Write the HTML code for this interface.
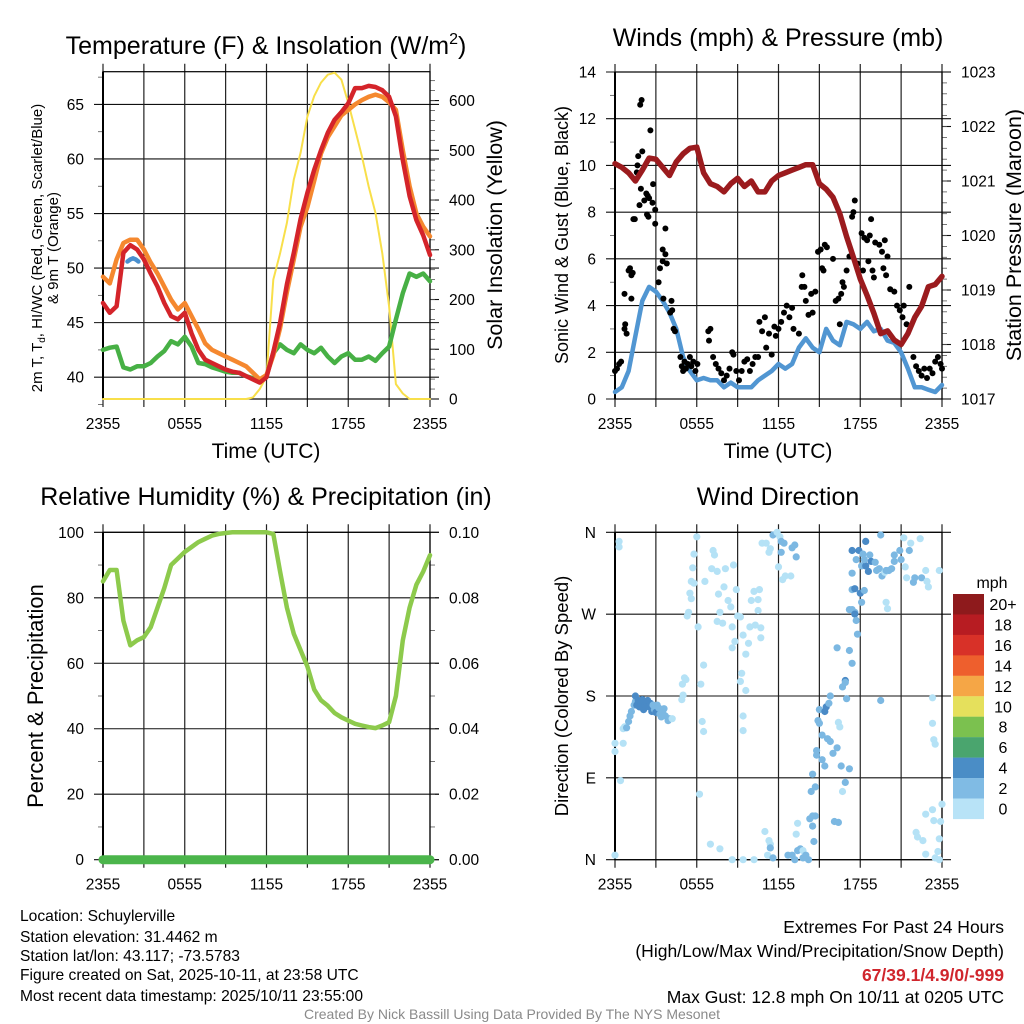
<!DOCTYPE html>
<html><head><meta charset="utf-8">
<style>
html,body{margin:0;padding:0;background:#fff;}
svg{display:block;font-family:"Liberation Sans",Arial,sans-serif;}
</style></head>
<body>
<svg id="fig" width="1024" height="1024" viewBox="0 0 1024 1024" xmlns="http://www.w3.org/2000/svg">
<rect x="0" y="0" width="1024" height="1024" fill="#fff"/>
<g id="layer"></g>
<text x="266" y="54" font-size="25" text-anchor="middle">Temperature (F) &amp; Insolation (W/m<tspan dy="-10" font-size="16">2</tspan><tspan dy="10">)</tspan></text>
<text x="778" y="46" font-size="25" text-anchor="middle">Winds (mph) &amp; Pressure (mb)</text>
<text x="266" y="505" font-size="25" text-anchor="middle">Relative Humidity (%) &amp; Precipitation (in)</text>
<text x="778" y="505" font-size="25" text-anchor="middle">Wind Direction</text>

<text transform="translate(42,248) rotate(-90)" font-size="15" text-anchor="middle">2m T, T<tspan dy="3" font-size="10">d</tspan><tspan dy="-3">, HI/WC (Red, Green, Scarlet/Blue)</tspan></text>
<text transform="translate(58,248) rotate(-90)" font-size="15" text-anchor="middle">&amp; 9m T (Orange)</text>
<text transform="translate(502,235) rotate(-90)" font-size="21.5" text-anchor="middle">Solar Insolation (Yellow)</text>
<text transform="translate(568,235) rotate(-90)" font-size="18" text-anchor="middle">Sonic Wind &amp; Gust (Blue, Black)</text>
<text transform="translate(1021,235) rotate(-90)" font-size="21.5" text-anchor="middle">Station Pressure (Maroon)</text>
<text transform="translate(43,696) rotate(-90)" font-size="22" text-anchor="middle">Percent &amp; Precipitation</text>
<text transform="translate(568,696) rotate(-90)" font-size="18.5" text-anchor="middle">Direction (Colored By Speed)</text>
<text x="266" y="458" font-size="21" text-anchor="middle">Time (UTC)</text>
<text x="778" y="458" font-size="21" text-anchor="middle">Time (UTC)</text>

<g font-size="15.6">
<text x="20" y="921">Location: Schuylerville</text>
<text x="20" y="942">Station elevation: 31.4462 m</text>
<text x="20" y="961">Station lat/lon: 43.117; -73.5783</text>
<text x="20" y="980">Figure created on Sat, 2025-10-11, at 23:58 UTC</text>
<text x="20" y="1001">Most recent data timestamp: 2025/10/11 23:55:00</text>
</g>
<g font-size="17.5" text-anchor="end">
<text x="1004" y="933">Extremes For Past 24 Hours</text>
<text x="1004" y="957">(High/Low/Max Wind/Precipitation/Snow Depth)</text>
<text x="1004" y="981" fill="#d0262d" font-weight="bold">67/39.1/4.9/0/-999</text>
<text x="1004" y="1003">Max Gust: 12.8 mph On 10/11 at 0205 UTC</text>
</g>
<text x="512" y="1019" font-size="14" fill="#8a8a8a" text-anchor="middle">Created By Nick Bassill Using Data Provided By The NYS Mesonet</text>
</svg>
<script>
const times=[0,0.5,1,1.5,2,2.5,3,3.5,4,4.5,5,5.5,6,6.5,7,7.5,8,8.5,9,9.5,10,10.5,11,11.5,12,12.5,13,13.5,14,14.5,15,15.5,16,16.5,17,17.5,18,18.5,19,19.5,20,20.5,21,21.5,22,22.5,23,23.5,24];
const xTickHours=[0,6,12,18,24];
const xTickLabels=["2355","0555","1155","1755","2355"];
const tempRed=[46.8,45.9,46.5,51.4,52.1,51.7,50.8,49.5,48.3,46.8,45.6,45.3,45.9,44,42.5,41.6,41.3,41,40.7,40.5,40.4,40.1,39.8,39.5,40,42.3,45,48.5,51.4,54.5,56.9,59,60.8,62.4,63.6,64.3,65.1,66.5,66.5,66.7,66.6,66.3,65.7,63.9,59.9,56.6,54.4,53,51.2];
const temp9m=[49.2,48.6,50.8,52.3,52.6,52.6,51.7,50.5,49.5,48.3,47.1,46.2,46.8,45.6,44.4,43.1,42.5,42.2,41.9,41.6,41.3,41,40.4,39.8,40.2,42,44.5,47.8,50.8,53.8,55.6,58,60.5,62,63,64,64.5,65,65.4,65.7,65.9,65.7,65.2,64.5,60.8,57.5,55,53.8,52.9];
const dewpoint=[42.5,42.7,42.8,40.9,40.7,41,41,41.3,41.9,42.4,43.3,43,43.7,42.8,41.3,41.2,40.9,40.7,40.5,40.4,40.4,40.1,39.9,39.8,40.1,42.2,43,42.5,42.2,43,42.5,42.2,42.7,41.9,41.3,41.9,42.2,41.6,41.6,41.9,41.5,42.2,42.8,45.3,47.7,49.5,49.2,49.5,48.8];
const hiwcTimes=[1.8,2.0,2.2,2.4,2.6];
const hiwcVals=[50.6,50.8,50.9,50.8,50.6];
const insolation=[0,0,0,0,0,0,0,0,0,0,0,0,0,0,0,0,0,0,0,0,0,0,3,20,45,240,293,354,441,495,568,609,636,652,656,642,595,542,488,427,374,293,186,30,11,0,0,0,0];
const tempTicks=[40,45,50,55,60,65];
const insolTicks=[0,100,200,300,400,500,600];
const wind=[0.3,0.5,1.2,2.7,4.2,4.8,4.6,4.2,3.7,3.0,1.8,1.2,0.8,0.9,0.8,0.8,0.5,0.7,0.5,0.5,0.5,0.8,1,1.2,1.5,1.3,1.5,2.2,2.6,2.2,2.0,3,2.5,2.3,3.3,3.2,3.0,3.3,2.9,3,2.5,2.4,2,1.3,0.5,0.5,0.4,0.3,0.6];
const pressure=[1021.32,1021.25,1021.15,1021.0,1021.2,1021.42,1021.4,1021.25,1021.1,1021.35,1021.5,1021.6,1021.62,1021.15,1020.95,1020.9,1020.8,1020.95,1021.05,1020.9,1021.0,1020.8,1020.8,1021.0,1021.1,1021.15,1021.2,1021.25,1021.3,1021.3,1020.95,1020.85,1020.7,1020.4,1019.98,1019.6,1019.2,1018.9,1018.57,1018.2,1018.25,1018.08,1018.0,1018.2,1018.5,1018.7,1019.06,1019.1,1019.25];
const gustTimes=[0,0.15,0.3,0.45,0.7,0.75,0.85,0.7,1.0,1.1,1.2,1.3,1.2,1.35,1.45,1.6,1.65,1.7,1.8,1.85,1.95,1.9,2.0,2.15,2.3,2.4,2.5,2.35,2.45,2.6,2.8,2.75,2.95,2.95,3.2,3.3,3.5,3.5,3.7,3.7,3.8,3.55,4.05,4.15,4.2,4.3,4.4,4.8,4.9,5.0,5.1,5.2,5.35,5.5,5.6,5.75,5.9,6.05,6.85,6.9,7.0,7.2,7.4,7.6,7.8,8.0,8.2,8.4,8.6,8.7,8.9,9.1,9.3,9.5,9.7,9.9,10.1,10.3,10.5,10.6,10.8,11.0,11.1,11.3,11.5,11.7,11.8,12.0,12.2,12.4,12.6,12.8,13.0,13.1,13.5,13.7,13.75,13.9,14.0,14.2,14.4,14.5,14.7,14.9,15.1,15.2,15.3,15.4,15.55,16.0,16.2,16.4,16.6,16.7,16.8,16.5,17.0,17.2,17.4,17.5,17.6,17.8,18.1,18.3,18.5,18.7,18.2,18.6,18.9,19.0,18.8,19.1,19.4,19.6,19.7,19.8,20.0,19.9,20.2,20.5,20.7,20.9,21.1,21.2,21.4,21.6,21.9,22.1,22.3,22.5,22.7,22.9,23.1,23.3,23.5,23.7,23.9,24];
const gustVals=[1.2,1.3,1.5,1.6,3.0,3.2,2.8,4.5,5.5,5.6,5.3,5.4,4.3,7.7,7.7,9.7,10.0,10.4,8.3,12.6,12.8,9.0,10.6,8.5,8.8,8.7,8.6,7.9,7.8,11.5,9.2,8.4,7.5,8.1,5.0,5.6,6.4,5.9,7.3,6.2,5.8,4.3,3.7,4.2,3.8,3.0,2.9,1.8,1.4,1.2,1.6,1.3,1.5,1.8,1.4,1.6,1.2,1.5,2.9,2.5,3.0,1.8,1.5,1.3,1.1,0.8,1.0,1.3,2.0,1.9,1.2,0.8,1.2,1.6,1.7,1.2,1.5,1.8,1.8,3.3,2.9,3.5,2.2,2.8,1.9,3.1,2.7,3.0,3.3,3.7,4.0,3.5,3.9,3.0,2.8,4.8,5.3,4.8,4.2,3.6,4.5,3.7,4.6,6.3,6.4,5.6,5.5,6.6,6.5,6.0,4.2,4.3,4.5,5.0,4.8,3.2,5.5,6.1,7.8,8.0,8.5,5.8,7.1,6.9,6.8,7.0,5.5,5.9,5.5,5.2,7.7,6.7,6.6,6.3,5.6,6.8,6.1,5.3,4.7,4.6,4.0,3.8,3.5,4.0,3.2,4.8,1.8,1.4,1.2,1.0,1.3,0.9,1.3,1.1,1.6,1.8,1.5,1.3];
const windTicks=[0,2,4,6,8,10,12,14];
const pressTicks=[1017,1018,1019,1020,1021,1022,1023];
const rh=[85,88.5,88.5,73,65.5,67,68,71,77,83,90,92,94,95.5,97,98,99,99.5,99.8,100,100,100,100,100,100,99.5,88,77,69,64,59,52,48.7,47,44.8,43.5,42.5,41.5,41,40.5,40.2,41,42,50,67,77,84,88,93];
const precip=[0,0,0,0,0,0,0,0,0,0,0,0,0,0,0,0,0,0,0,0,0,0,0,0,0,0,0,0,0,0,0,0,0,0,0,0,0,0,0,0,0,0,0,0,0,0,0,0,0];
const rhTicks=[0,20,40,60,80,100];
const precipTicks=[0,0.02,0.04,0.06,0.08,0.10];
const dirTimes=[0.3,0.3,0.0,0.0,0.4,0.0,0.6,0.7,0.6,0.85,1.0,1.1,1.2,1.4,1.5,1.5,1.6,1.7,1.8,1.9,2.0,2.1,2.2,2.3,2.4,2.5,2.6,2.7,2.8,2.9,3.0,3.1,3.2,3.3,3.4,3.5,3.6,3.7,3.9,4.0,4.2,4.9,5.0,4.95,5.1,5.2,5.4,5.3,5.5,5.6,5.7,5.8,6.0,5.6,5.8,6.1,6.3,6.5,6.4,6.5,6.2,6.6,7.1,7.2,7.3,7.5,7.6,7.7,7.5,7.9,8.0,8.1,8.3,8.5,8.6,8.8,8.6,8.7,8.9,9.0,9.2,9.2,9.3,9.6,9.4,9.6,9.8,9.9,10.0,10.2,10.5,10.5,10.6,10.3,10.7,10.7,9.4,9.4,7.0,7.7,8.6,9.4,10.2,11.0,11.3,11.4,11.4,11.2,11.6,10.8,11.1,11.3,11.4,11.6,11.9,12.1,12.2,12.4,12.2,12.0,12.5,12.9,12.3,13.0,13.2,13.3,12.7,13.0,13.2,13.4,13.6,13.4,13.3,13.8,14.0,14.2,13.8,14.3,14.5,14.7,14.5,14.6,14.4,14.7,14.5,14.8,15.2,15.4,14.8,14.9,15.0,15.2,15.0,15.4,15.5,15.7,15.8,15.6,15.8,16.0,16.3,16.4,16.5,16.7,16.6,17.0,16.7,16.9,16.9,17.2,17.4,17.2,16.9,16.3,16.1,16.4,17.2,17.4,17.6,17.6,17.7,17.8,17.4,17.6,18.0,18.3,18.1,18.4,17.4,17.7,17.4,17.9,18.2,18.4,18.3,18.7,18.8,18.6,19.1,19.2,19.4,19.6,19.8,20.1,20.3,20.5,20.5,20.9,21.0,21.3,21.4,21.9,21.2,21.7,22.4,19.5,19.9,20.0,18.1,19.5,19.9,21.6,22.0,22.5,22.8,22.9,23.0,23.8,23.3,23.3,23.4,23.5,24.0,23.3,22.8,23.4,23.9,22.1,22.2,22.6,23.8,22.8,23.5,23.8,23.7];
const dirDegrees=[350,344,128,119,87,5,144,146,128,145,152,158,163,170,174,180,170,175,168,172,176,165,170,173,175,168,172,163,170,165,162,170,167,160,157,162,166,158,153,155,155,176,181,193,200,198,272,268,293,306,321,336,355,287,304,256,193,214,152,141,72,306,320,340,335,317,292,272,262,260,300,320,285,278,256,240,233,324,297,268,267,196,205,186,247,226,238,256,285,295,286,274,297,258,255,244,158,142,17,12,0,0,0,31,21,17,13,5,2,348,348,338,342,357,360,355,350,348,338,322,312,312,308,343,346,333,5,5,0,10,12,40,28,10,5,0,2,45,48,48,37,20,75,80,94,120,110,103,115,153,150,137,165,163,168,172,180,133,130,117,123,151,146,75,103,177,190,197,195,230,216,100,85,233,42,41,275,275,272,270,263,248,297,298,293,296,323,323,340,330,315,340,336,350,330,335,328,317,327,318,320,312,316,318,320,328,335,340,330,322,310,305,354,348,353,357,283,276,283,175,318,340,310,310,318,306,300,318,178,150,132,127,61,55,50,43,42,30,25,21,23,6,2,0,9];
const dirSpeeds=[1,1,1,1,1,1,1,1,1,3,3,3,3,3,3,5,5,5,5,5,5,5,5,5,5,5,5,5,3,3,5,3,3,3,3,3,3,3,3,3,1,1,1,1,1,1,1,1,1,1,1,1,1,1,1,1,1,1,1,1,1,1,1,1,1,1,1,1,1,1,1,1,1,1,1,1,1,1,1,1,1,1,1,1,1,1,1,1,1,1,1,1,1,1,1,1,1,1,1,1,1,1,1,1,1,1,3,1,3,1,1,1,1,3,1,1,3,3,3,1,1,1,1,3,3,3,3,3,3,3,3,1,1,1,3,3,3,3,3,3,3,3,3,3,3,3,3,3,3,3,3,3,3,5,5,3,3,3,3,3,3,1,1,1,3,3,3,5,3,3,3,3,3,3,3,3,3,3,3,5,3,3,3,5,5,3,3,5,5,3,3,5,3,5,3,3,5,5,3,3,3,3,1,3,3,3,3,3,3,1,1,3,1,1,1,3,1,1,3,3,3,3,3,3,1,1,1,1,1,1,1,1,1,1,1,1,1,1,1,1,1,1,1,1,1,1,1];
const dirTickVals=[0,90,180,270,360];
const dirTickLabels=["N","E","S","W","N"];
const cbLabels=["20+","18","16","14","12","10","8","6","4","2","0"];
const cbColors=["#8e1a1c","#b71c22","#d83128","#ee5f2d","#f5a646","#e5e05c","#7bc14f","#4aa56e","#4a8dc6","#80bbe4","#b8e3f7"];

const NS="http://www.w3.org/2000/svg";
const layer=document.getElementById('layer');
function el(tag,attrs,parent){const e=document.createElementNS(NS,tag);for(const k in attrs)e.setAttribute(k,attrs[k]);(parent||layer).appendChild(e);return e;}
function lin(d0,d1,r0,r1){return v=>r0+(v-d0)/(d1-d0)*(r1-r0);}
function speedColor(s){return s>=4?"#4a8ac6":(s>=2?"#7cb8e2":"#b5e2f6");}

function panel(name,x0,x1,y0,y1,lmin,lmax,lticks,llabels,rmin,rmax,rticks,rlabels,lminor,rminor){
  const g=el('g',{});
  
  
  const xs=lin(0,24,x0,x1), yl=lin(lmin,lmax,y1,y0), yr=rmin===null?null:lin(rmin,rmax,y1,y0);
  lticks.forEach((v,i)=>{
    const y=yl(v);
    const l=el('line',{x1:x0-9,x2:x1+9,y1:y,y2:y,stroke:'#111','stroke-width':1.1},g);
    
    
    const t=el('text',{x:x0-19,y:y+5.5,'font-size':15.5,'text-anchor':'end'},g);
    t.textContent=llabels[i];
    
    
  });
  (lminor||[]).forEach(v=>{const y=yl(v);el('line',{x1:x0-5,x2:x0,y1:y,y2:y,stroke:'#555','stroke-width':0.8},g);});
  if(yr){
    rticks.forEach((v,i)=>{
      const y=yr(v);
      el('line',{x1:x1,x2:x1+9,y1:y,y2:y,stroke:'#111','stroke-width':1.1},g);
      const t=el('text',{x:x1+19,y:y+5.5,'font-size':15.5},g);
      t.textContent=rlabels[i];
      
      
    });
    (rminor||[]).forEach(v=>{const y=yr(v);el('line',{x1:x1,x2:x1+5,y1:y,y2:y,stroke:'#555','stroke-width':0.8},g);});
  }
  for(let h=0;h<=24;h+=3){
    const x=xs(h);
    const l=el('line',{x1:x,x2:x,y1:y0-8,y2:y1+8,stroke:'#222','stroke-width':1.2},g);
    
    
  }
  xTickHours.forEach((h,i)=>{
    const t=el('text',{x:xs(h),y:y1+30,'font-size':15.5,'text-anchor':'middle'},g);
    t.textContent=xTickLabels[i];
    
    
  });
  el('rect',{x:x0,y:y0,width:x1-x0,height:y1-y0,fill:'none',stroke:'#000','stroke-width':1.2},g);
  el('line',{x1:x0,x2:x0,y1:y0,y2:y1,stroke:'#000','stroke-width':2},g);
  return {g,xs,yl,yr};
}
function range(a,b,s){const r=[];for(let v=a;v<=b+1e-9;v+=s)r.push(+v.toFixed(4));return r;}
function line(p,xsArr,ys,yscale,color,w,name){
  const d=xsArr.map((t,i)=>(i?'L':'M')+p.xs(t).toFixed(1)+','+yscale(ys[i]).toFixed(1)).join('');
  const e=el('path',{d:d,fill:'none',stroke:color,'stroke-width':w,'stroke-linejoin':'round','stroke-linecap':'round'},p.g);
  
  
  return e;
}

const p1=panel('temperature',103,430,71.7,399,38,68,tempTicks,tempTicks.map(String),0,658,insolTicks,insolTicks.map(String),range(37.5,67.5,5),range(20,640,20));
line(p1,times,insolation,p1.yr,'#f8df4a',2,'insolation-line');
line(p1,times,dewpoint,p1.yl,'#47b045',4.5,'dewpoint-line');
line(p1,times,temp9m,p1.yl,'#f5882f',4.5,'temp-9m-line');
line(p1,times,tempRed,p1.yl,'#d4242a',4.5,'temp-2m-line');
line(p1,hiwcTimes,hiwcVals,p1.yl,'#4a90cf',4.5,'heat-index-line');

const p2=panel('winds',615,942,72,399,0,14,windTicks,windTicks.map(String),1017,1023,pressTicks,pressTicks.map(String),range(1,13,2),range(1017.2,1022.8,0.2));
line(p2,times,wind,p2.yl,'#5196d2',4.5,'wind-speed-line');
gustTimes.forEach((t,i)=>{
  const c=el('circle',{cx:p2.xs(t).toFixed(1),cy:p2.yl(gustVals[i]).toFixed(1),r:3,fill:'#000'},p2.g);
  
  
});
line(p2,times,pressure,p2.yr,'#9b1b1e',5.5,'pressure-line');

const p3=panel('humidity',103,430,532.3,859.7,0,100,rhTicks,rhTicks.map(String),0,0.1,precipTicks,precipTicks.map(v=>v.toFixed(2)),range(10,90,20),range(0.01,0.09,0.01));
line(p3,times,rh,p3.yl,'#8dca4c',4.5,'humidity-line');
line(p3,times,precip,p3.yr,'#4bb54b',9,'precip-line');

const p4=panel('wind-direction',615,942,532.3,859.7,0,360,dirTickVals,dirTickLabels,null,null,null,null,null,null);
dirTimes.forEach((t,i)=>{
  const c=el('circle',{cx:p4.xs(t).toFixed(1),cy:p4.yl(dirDegrees[i]).toFixed(1),r:3.6,fill:speedColor(dirSpeeds[i])},p4.g);
  
  
});
const cb=el('g',{});


const cbt=el('text',{x:992,y:588,'font-size':16,'text-anchor':'middle'},cb);
cbt.textContent='mph';


cbColors.forEach((c,i)=>{
  const y=594+i*20.45;
  const r=el('rect',{x:953,y:y,width:31,height:20.6,fill:c},cb);
  
  
  const t=el('text',{x:1003,y:y+16,'font-size':16,'text-anchor':'middle'},cb);
  t.textContent=cbLabels[i];
  
  
});
</script>
</body></html>
